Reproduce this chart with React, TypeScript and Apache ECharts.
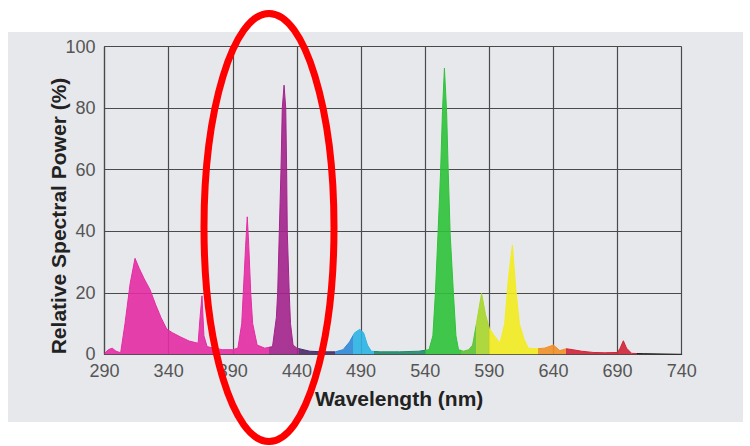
import React, { useEffect, useRef } from "react";
import * as echarts from "echarts";

const wavelengths = [
  290, 293, 296, 299, 302.6, 306, 310, 313.8, 317, 321, 325.5, 330, 334, 338.5, 343, 349, 356, 363,
  364.5, 366, 367.5, 370, 375, 382, 390, 394, 397, 398.2, 400, 401.3, 402.5, 404, 405.5, 409, 415,
  421, 424, 425, 426.3, 427.6, 428.6, 430, 431.3, 432, 432.5, 434, 435, 437, 440, 450, 460, 470,
  476, 481, 485, 489, 492, 495, 498, 505, 520, 535, 543, 546, 548, 550, 552, 553.5, 555, 556.7,
  558, 559.5, 562, 564, 566, 570, 574, 577, 580, 584, 587, 590, 594, 598.4, 602, 605, 608, 610.5,
  613.4, 617, 620.4, 627, 633, 640, 645, 650, 655, 662, 671, 680, 690, 692, 694.5, 697, 701, 710, 740,
];

const power = [
  0.3, 1.5, 2, 1, 0.5, 10, 23, 31.2, 28, 24.5, 21, 16, 12, 8.2, 7, 5.7, 4.3, 3.6,
  12, 19, 6, 2.5, 2, 1.5, 1.5, 2, 10, 20, 35, 44.7, 35, 20, 10, 3, 2,
  2.5, 12, 20, 40, 60, 80, 87.5, 80, 60, 40, 20, 10, 3, 2, 1, 0.8, 0.8,
  1.5, 4, 7, 8.1, 7, 3, 1, 0.8, 0.8, 1, 1.5, 6, 20, 39, 59, 79, 93, 79,
  59, 39, 20, 6, 1.5, 1, 1.5, 3, 10, 19.8, 13, 8.4, 6, 3.6, 10, 25, 35.5, 22,
  10, 5, 2, 1.8, 2, 3, 1.2, 1.8, 1.5, 1, 0.6, 0.5, 0.6, 2, 4.4, 2, 0.3, 0.2, 0,
];

const xTicks = { min: 290, max: 740, step: 50 };
const yTicks = { min: 0, max: 100, step: 20 };

const bandStarts = [290, 418, 442, 470, 484, 500, 540, 568, 580, 590, 628, 650, 705];
const bandEnds = [418, 442, 470, 484, 500, 540, 568, 580, 590, 628, 650, 705, 741];
const bandColors = [
  "#e42ca3", "#a3228b", "#4a2a6a", "#2f88d6", "#2cb4e4", "#1f8a6a", "#2ec23a",
  "#5cc433", "#a8d62c", "#f2ec1f", "#f0902a", "#cf2438", "#1a1a1a",
];

const xTitle = "Wavelength (nm)";
const yTitle = "Relative Spectral Power (%)";

export default function App() {
  const ref = useRef<HTMLDivElement>(null);
  useEffect(() => {
    if (!ref.current) return;
    const chart = echarts.init(ref.current, null, { renderer: "svg" });
    const data = wavelengths.map((w, i) => [w, power[i]]);
    const pieces = bandStarts.map((s, i) => ({ gte: s, lt: bandEnds[i], color: bandColors[i] }));
    const labelFont = {
      color: "#555",
      fontSize: 18,
      fontFamily: "'Liberation Sans', Arial, sans-serif",
    };
    const titleFont = {
      color: "#222",
      fontSize: 21,
      fontWeight: "bold",
      fontFamily: "'Liberation Sans', Arial, sans-serif",
    };
    chart.setOption({
      animation: false,
      backgroundColor: "#ffffff",
      grid: { left: 104.5, top: 46.7, right: 68.3, bottom: 91.7, containLabel: false },
      graphic: [
        {
          type: "rect",
          z: -100,
          silent: true,
          shape: { x: 8, y: 32, width: 735, height: 390 },
          style: { fill: "#e7e8eb" },
        },
        {
          type: "ellipse",
          z: 100,
          silent: true,
          shape: { cx: 269, cy: 227.5, rx: 65, ry: 214 },
          style: { fill: "none", stroke: "#ff0000", lineWidth: 7 },
        },
      ],
      visualMap: {
        type: "piecewise",
        show: false,
        dimension: 0,
        seriesIndex: 0,
        pieces,
      },
      xAxis: {
        type: "value",
        min: xTicks.min,
        max: xTicks.max,
        interval: xTicks.step,
        name: xTitle,
        nameLocation: "middle",
        nameGap: 34,
        nameTextStyle: { ...titleFont, padding: [0, 0, 0, 12] },
        axisLine: { show: true, lineStyle: { color: "#4a4a4a", width: 1.2 } },
        axisTick: { show: false },
        axisLabel: { ...labelFont, margin: 8 },
        splitLine: { show: true, lineStyle: { color: "#4a4a4a", width: 1.2 } },
      },
      yAxis: {
        type: "value",
        min: yTicks.min,
        max: yTicks.max,
        interval: yTicks.step,
        name: yTitle,
        nameLocation: "middle",
        nameRotate: 90,
        nameGap: 36,
        nameMoveOverlap: false,
        nameTextStyle: { ...titleFont, padding: [0, 31, 0, 0] },
        axisLine: { show: true, lineStyle: { color: "#4a4a4a", width: 1.2 } },
        axisTick: { show: false },
        axisLabel: { ...labelFont, margin: 9 },
        splitLine: { show: true, lineStyle: { color: "#4a4a4a", width: 1.2 } },
      },
      series: [
        {
          type: "line",
          data,
          symbol: "none",
          smooth: false,
          lineStyle: { width: 1 },
          areaStyle: { opacity: 0.9 },
        },
      ],
    });
    return () => chart.dispose();
  }, []);
  return (
    <div
      ref={ref}
      style={{ position: "absolute", left: 0, top: 0, width: 750, height: 446 }}
    />
  );
}
